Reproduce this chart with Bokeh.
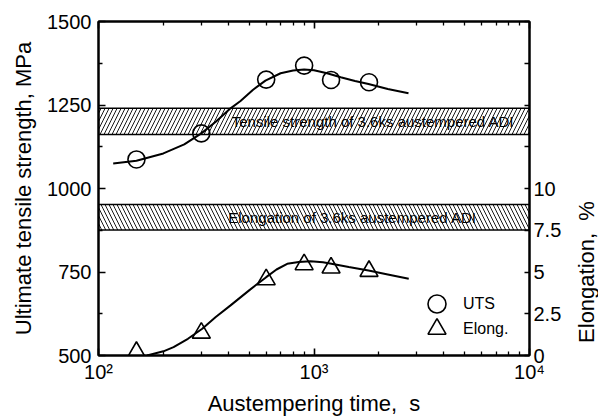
import numpy as np
from bokeh.plotting import figure
from bokeh.layouts import row
from bokeh.models import (Range1d, LinearAxis, LogAxis, FixedTicker, BoxAnnotation,
                          Label, Legend, LegendItem)
from bokeh.embed import file_html
from bokeh.resources import INLINE

# ---------------- data ----------------
# measured points
uts_time = [150, 300, 600, 900, 1200, 1800]          # s
uts_mpa = [1087, 1165, 1326, 1368, 1325, 1318]       # MPa
elong_time = [150, 300, 600, 900, 1200, 1800]        # s
elong_pct = [0.2, 1.35, 4.55, 5.45, 5.25, 5.05]      # %

# hand-drawn trend curves
uts_curve_time = [117, 150, 200, 250, 300, 350, 410, 456, 520, 595, 700, 800, 900,
                  1000, 1150, 1330, 1550, 1790, 2200, 2745]
uts_curve_mpa = [1075, 1083, 1105, 1132, 1165, 1200, 1240, 1262, 1295, 1323, 1345,
                 1353, 1356, 1354, 1345, 1333, 1322, 1313, 1298, 1285]
elong_curve_time = [168, 200, 223, 260, 303, 350, 410, 500, 600, 670, 751, 850, 964,
                    1100, 1205, 1450, 1790, 2200, 2752]
elong_curve_pct = [0.0, 0.25, 0.5, 1.0, 1.6, 2.3, 3.0, 3.9, 4.69, 5.15, 5.49, 5.6, 5.65,
                   5.58, 5.49, 5.3, 5.09, 4.85, 4.59]

# reference bands (3.6 ks austempered ADI)
tensile_band_mpa = [1162, 1240]
elong_band_mpa = [876, 952]

# axes / ticks
x_major_ticks = [100, 1000, 10000]
x_minor_ticks = [200, 300, 400, 500, 600, 700, 800, 900,
                 2000, 3000, 4000, 5000, 6000, 7000, 8000, 9000]
x_tick_labels = ["10\u00b2", "10\u00b3", "10\u2074"]
y_major_ticks = [500, 750, 1000, 1250, 1500]
y_minor_ticks = [625, 875, 1125, 1375]
e_ticks = [0, 2.5, 5, 7.5, 10, 12.5, 15, 17.5, 20]
e_tick_labels = ["0", "2.5", "5", "7.5", "10", "", "", "", ""]
e_title_span = (0, 10)   # the right-hand title is centred on this part of the axis

FONT = "Liberation Sans"

p = figure(width=574, height=419, x_axis_type="log",
           x_range=Range1d(100, 10000), y_range=Range1d(500, 1500),
           output_backend="svg", toolbar_location=None,
           x_axis_location=None, y_axis_location=None,
           min_border_left=98, min_border_right=45, min_border_top=21, min_border_bottom=64)
p.extra_y_ranges = {"elong": Range1d(0, 20)}
p.xgrid.visible = False
p.ygrid.visible = False
p.outline_line_color = "black"
p.outline_line_width = 2
p.background_fill_color = "white"
p.border_fill_color = "white"


def style(ax, tick_in=7, minor_in=4):
    ax.axis_line_color = "black"
    ax.axis_line_width = 2
    ax.major_tick_in = tick_in
    ax.major_tick_out = 0
    ax.minor_tick_in = minor_in
    ax.minor_tick_out = 0
    ax.major_tick_line_color = "black"
    ax.minor_tick_line_color = "black"
    ax.major_tick_line_width = 1.6
    ax.minor_tick_line_width = 1.3
    ax.major_label_text_font = FONT
    ax.major_label_text_font_size = "20px"
    ax.major_label_text_color = "black"
    ax.axis_label_text_font = FONT
    ax.axis_label_text_font_size = "22px"
    ax.axis_label_text_font_style = "normal"
    ax.axis_label_text_color = "black"


xb = LogAxis(ticker=FixedTicker(ticks=x_major_ticks, minor_ticks=x_minor_ticks),
             major_label_overrides=dict(zip(x_major_ticks, x_tick_labels)),
             axis_label="Austempering time,\u00a0 s")
style(xb)
xb.major_label_standoff = 5
xb.axis_label_standoff = 5
p.add_layout(xb, "below")

xt = LogAxis(ticker=FixedTicker(ticks=x_major_ticks, minor_ticks=x_minor_ticks),
             major_label_overrides={t: "" for t in x_major_ticks})
style(xt)
xt.major_label_text_font_size = "4px"
xt.major_label_standoff = 0
p.add_layout(xt, "above")

yl = LinearAxis(ticker=FixedTicker(ticks=y_major_ticks, minor_ticks=y_minor_ticks),
                axis_label="Ultimate tensile strength, MPa")
style(yl)
yl.major_label_standoff = 7
yl.axis_label_standoff = 8
p.add_layout(yl, "left")

yr = LinearAxis(y_range_name="elong", ticker=FixedTicker(ticks=e_ticks),
                major_label_overrides=dict(zip(e_ticks, e_tick_labels)))
style(yr, tick_in=5)
yr.major_label_standoff = 4
p.add_layout(yr, "right")

# bands
for (lo, hi), pat in ((tensile_band_mpa, "/"), (elong_band_mpa, "\\")):
    p.add_layout(BoxAnnotation(bottom=lo, top=hi, fill_alpha=0,
                               hatch_pattern=pat, hatch_color="black", hatch_scale=8,
                               hatch_weight=0.9, hatch_alpha=1.0,
                               line_color="black", line_width=1.5, line_alpha=1.0,
                               level="underlay"))

p.add_layout(Label(x=1879, y=sum(tensile_band_mpa) / 2,
                   text="Tensile strength of 3.6ks austempered ADI",
                   text_align="center", text_baseline="middle",
                   text_font=FONT, text_font_size="15px", text_color="black"))
p.add_layout(Label(x=1509, y=sum(elong_band_mpa) / 2,
                   text="Elongation of 3.6ks austempered ADI",
                   text_align="center", text_baseline="middle",
                   text_font=FONT, text_font_size="15px", text_color="black"))

# curves and points
p.line(uts_curve_time, uts_curve_mpa, line_color="black", line_width=2)
r_uts = p.scatter(uts_time, uts_mpa, marker="circle", size=17, fill_color=None,
                  line_color="black", line_width=1.6)
p.line(elong_curve_time, elong_curve_pct, y_range_name="elong",
       line_color="black", line_width=2)
r_el = p.scatter(elong_time, elong_pct, marker="triangle", size=18, fill_color=None,
                 line_color="black", line_width=1.6, y_range_name="elong")

# two single-entry legends so the rows can sit close together with large markers
for item_label, rend, vy in (("UTS", r_uts, 29), ("Elong.", r_el, 4)):
    lg = Legend(items=[LegendItem(label=item_label, renderers=[rend])],
                location=(316, vy), glyph_width=45, glyph_height=45,
                padding=0, margin=0, label_standoff=4,
                border_line_color=None, background_fill_alpha=0,
                label_text_font=FONT, label_text_font_size="16px",
                label_text_color="black")
    p.add_layout(lg)

# narrow strip to the right that carries the rotated title "Elongation, %"
p2 = figure(width=24, height=419, x_range=Range1d(0, 1), y_range=Range1d(0, 20),
            output_backend="svg", toolbar_location=None,
            x_axis_location=None, y_axis_location=None,
            min_border_left=0, min_border_right=0, min_border_top=21, min_border_bottom=64)
p2.xgrid.visible = False
p2.ygrid.visible = False
p2.outline_line_color = None
p2.background_fill_color = "white"
p2.border_fill_color = "white"
p2.add_layout(Label(x=0.5, y=sum(e_title_span) / 2, text="Elongation,\u00a0 %",
                    angle=np.pi / 2, text_align="center", text_baseline="middle",
                    text_font=FONT, text_font_size="22px", text_color="black"))

layout = row(p, p2, spacing=0)
open("out.html", "w").write(file_html(layout, INLINE))
